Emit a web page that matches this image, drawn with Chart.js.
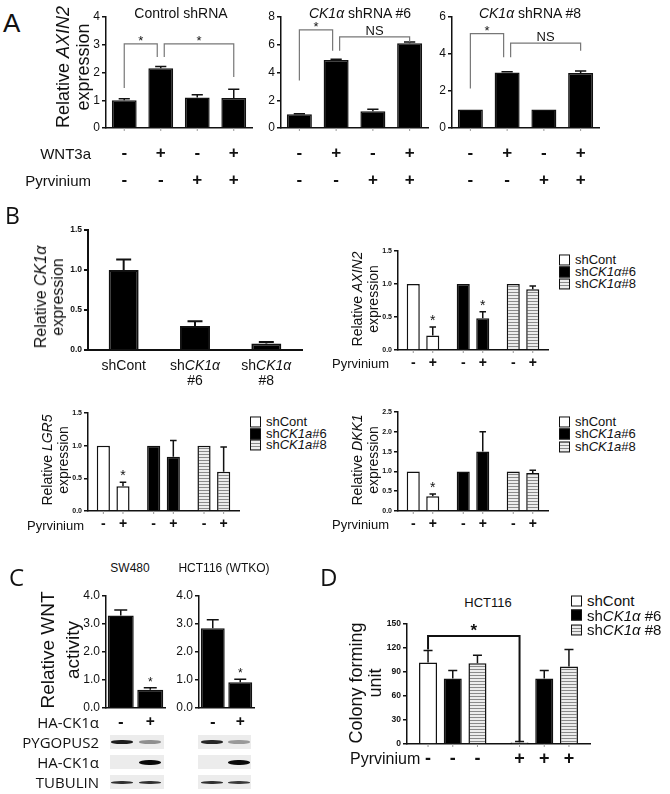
<!DOCTYPE html>
<html>
<head>
<meta charset="utf-8">
<script src="https://cdn.jsdelivr.net/npm/chart.js@4.4.1/dist/chart.umd.min.js"></script>
<style>
  body { margin: 0; background: #fff; }
  #fig { position: relative; width: 670px; height: 794px; overflow: hidden; font-family: "Liberation Sans", Arial, sans-serif; color: #111; }
  #fig canvas { position: absolute; }
  .t { position: absolute; white-space: nowrap; line-height: 1; }
  .yt { position: absolute; white-space: nowrap; text-align: center; transform: translate(-50%, -50%) rotate(-90deg); }
  .box { display: inline-block; box-sizing: border-box; border: 1.5px solid #111; vertical-align: middle; margin-right: 5px; position: relative; top: -1px; }
  .cal { font-family: "Open Sans", sans-serif; }
  .strip { position: absolute; background: #ececec; }
  .band { position: absolute; border-radius: 45%; filter: blur(0.7px); }
</style>
</head>
<body>
<div id="fig"></div>
<script>
// ---- A: relative AXIN2 expression (WNT3a / Pyrvinium) ----
const wnt3a = ['-', '+', '-', '+'];
const pyrvA = ['-', '-', '+', '+'];
const ticksCtrl = ['0', '1', '2', '3', '4'];
const ticksSh6 = ['0', '2', '4', '6', '8'];
const ticksSh8 = ['0', '2', '4', '6'];
const ctrlMean = [1.0, 2.15, 1.1, 1.08];
const ctrlErr = [0.05, 0.07, 0.1, 0.32];
const sh6Mean = [1.0, 4.9, 1.2, 6.1];
const sh6Err = [0.02, 0.05, 0.15, 0.1];
const sh8Mean = [1.0, 3.0, 1.0, 2.97];
const sh8Err = [0, 0.04, 0, 0.11];
// brackets: bar refs [dataset, index], top + leg ends in axis units
const ctrlSig = [{ from: [0, 0], to: [0, 1], top: 3.03, lo: [1.44, 2.56], side: [0, -1], text: '*' },
                 { from: [0, 1], to: [0, 3], top: 3.03, lo: [2.56, 1.84], side: [1, 0], text: '*' }];
const sh6Sig = [{ from: [0, 0], to: [0, 1], top: 7.07, lo: [3.43, 5.57], side: [0, -1], text: '*' },
                { from: [0, 1], to: [0, 3], top: 6.57, lo: [5.57, 6.16], side: [1, 0], text: 'NS' }];
const sh8Sig = [{ from: [0, 0], to: [0, 1], top: 5.1, lo: [2.14, 3.82], side: [0, -1], text: '*' },
                { from: [0, 1], to: [0, 3], top: 4.59, lo: [3.82, 4.18], side: [1, 0], text: 'NS' }];

// ---- B ----
const ck1aCats = ['shCont', 'sh<i>CK1α</i>', 'sh<i>CK1α</i>'];
const ck1aSub = ['', '#6', '#8'];
const ticksCk1a = ['0.0', '0.5', '1.0', '1.5'];
const ck1aMean = [1.0, 0.3, 0.08];
const ck1aErr = [0.13, 0.06, 0.02];

const shGroups = ['shCont', 'shCK1a#6', 'shCK1a#8'];
const pyrvB = ['-', '+', '-', '+', '-', '+'];
const ticks15 = ['0.0', '0.5', '1.0', '1.5'];
const ticks25 = ['0.0', '0.5', '1.0', '1.5', '2.0', '2.5'];
const axinNo = [1, 1, 1];
const axinPyr = [0.22, 0.48, 0.92];
const axinPyrErr = [0.13, 0.1, 0.05];
const axinStar = [true, true, false];
const lgr5No = [1, 1, 1];
const lgr5Pyr = [0.38, 0.83, 0.6];
const lgr5PyrErr = [0.06, 0.25, 0.38];
const lgr5Star = [true, false, false];
const dkk1No = [1, 1, 1];
const dkk1Pyr = [0.37, 1.5, 0.96];
const dkk1PyrErr = [0.06, 0.5, 0.07];
const dkk1Star = [true, false, false];
const legB2 = ['shCont', 'sh<i>CK1α</i>#6', 'sh<i>CK1α</i>#8'];
const legB34 = ['shCont', 'sh<i>CK1a</i>#6', 'sh<i>CK1a</i>#8'];

// ---- C ----
const haCk1a = ['-', '+'];
const ticksC = ['0.0', '1.0', '2.0', '3.0', '4.0'];
const sw480Mean = [3.3, 0.65];
const sw480Err = [0.2, 0.07];
const hctMean = [2.85, 0.92];
const hctErr = [0.3, 0.11];
const cStar = [false, true];
const blotLabels = ['PYGOPUS2', 'HA-CK1α', 'TUBULIN'];
const blotSW480 = [[0.9, 0.3], [0, 1], [0.8, 0.8]];
const blotHCT = [[0.85, 0.25], [0, 1], [0.8, 0.75]];

// ---- D ----
const pyrvGroups = ['-', '+'];
const pyrvD = ['-', '-', '-', '+', '+', '+'];
const ticksD = ['0', '30', '60', '90', '120', '150'];
const cfuCont = [102, 2];
const cfuContErr = [15, 1];
const cfuSh6 = [82, 82];
const cfuSh6Err = [10, 10];
const cfuSh8 = [101, 97];
const cfuSh8Err = [10, 21];
const cfuSig = [{ from: [0, 0], to: [0, 1], top: 135, lo: [118, 3], text: '*' }];
const legD = ['shCont', 'sh<i>CK1α</i> #6', 'sh<i>CK1α</i> #8'];

const fig = document.getElementById('fig');
const SANS = '"Liberation Sans", Arial, sans-serif';
const INK = '#111';

const stripe = (() => {
  const c = document.createElement('canvas');
  c.width = 4; c.height = 3;
  const g = c.getContext('2d');
  g.fillStyle = '#ececec'; g.fillRect(0, 0, 4, 3);
  g.fillStyle = '#8a8a8a'; g.fillRect(0, 0, 4, 1);
  return g.createPattern(c, 'repeat');
})();
const FILLS = ['#fff', '#000', stripe];
const CSSFILLS = ['#fff', '#000', 'repeating-linear-gradient(#8a8a8a 0 1px, #ececec 1px 3px)'];

function richText(ctx, str, x, y, font) {
  const parts = str.split(/(<i>.*?<\/i>)/).filter(s => s).map(s =>
    s.startsWith('<i>') ? { t: s.slice(3, -4), f: 'italic ' + font } : { t: s, f: font });
  let w = 0;
  parts.forEach(p => { ctx.font = p.f; p.w = ctx.measureText(p.t).width; w += p.w; });
  let cx = x - w / 2;
  ctx.textAlign = 'left';
  parts.forEach(p => { ctx.font = p.f; ctx.fillText(p.t, cx, y); cx += p.w; });
}

// error bars, stars, brackets and the -/+ rows under the bars
const marks = {
  id: 'marks',
  afterDraw(chart, args, o) {
    const ctx = chart.ctx, ys = chart.scales.y, base = ys.getPixelForValue(0);
    const bars = [];
    chart.data.datasets.forEach((ds, d) =>
      chart.getDatasetMeta(d).data.forEach((el, i) => bars.push({ el, ds, i })));
    bars.sort((a, b) => a.el.x - b.el.x);
    ctx.save();
    ctx.fillStyle = INK;
    ctx.strokeStyle = INK;
    bars.forEach(b => {
      const v = b.ds.data[b.i], e = b.ds.errors ? b.ds.errors[b.i] : 0;
      const top = ys.getPixelForValue(v + e);
      ctx.lineWidth = o.lw;
      if (e) {
        const half = b.el.width * o.cap / 2;
        ctx.beginPath();
        ctx.moveTo(b.el.x, b.el.y); ctx.lineTo(b.el.x, top);
        ctx.moveTo(b.el.x - half, top); ctx.lineTo(b.el.x + half, top);
        ctx.stroke();
      }
      if (b.ds.stars && b.ds.stars[b.i]) {
        ctx.font = o.starFont; ctx.textAlign = 'center'; ctx.textBaseline = 'alphabetic';
        ctx.fillText('*', b.el.x, top - o.starGap);
      }
      if (o.xTick) {
        ctx.strokeStyle = '#999'; ctx.lineWidth = 1;
        ctx.beginPath(); ctx.moveTo(b.el.x, base); ctx.lineTo(b.el.x, base + o.xTick); ctx.stroke();
        ctx.strokeStyle = INK;
      }
    });
    (o.brackets || []).forEach(br => {
      const e1 = chart.getDatasetMeta(br.from[0]).data[br.from[1]];
      const e2 = chart.getDatasetMeta(br.to[0]).data[br.to[1]];
      const side = br.side || [0, 0];
      const x1 = e1.x + side[0] * o.shareGap, x2 = e2.x + side[1] * o.shareGap;
      const yt = ys.getPixelForValue(br.top);
      ctx.strokeStyle = o.bracketColor; ctx.lineWidth = o.bracketWidth;
      ctx.beginPath();
      ctx.moveTo(x1, ys.getPixelForValue(br.lo[0]));
      ctx.lineTo(x1, yt); ctx.lineTo(x2, yt);
      ctx.lineTo(x2, ys.getPixelForValue(br.lo[1]));
      ctx.stroke();
      ctx.font = br.text === '*' ? o.bracketStar : o.bracketFont;
      ctx.textAlign = 'center'; ctx.textBaseline = 'alphabetic';
      ctx.fillText(br.text, (x1 + x2) / 2, yt - (br.text === '*' ? o.starLift : o.textLift));
    });
    ctx.textBaseline = 'middle';
    (o.rows || []).forEach(r => {
      bars.forEach((b, k) => { if (r.labels[k]) richText(ctx, r.labels[k], b.el.x, base + r.dy, r.font); });
    });
    ctx.restore();
  }
};

function barChart(o) {
  const cv = document.createElement('canvas');
  const yW = o.yW, padT = o.padT || 10, padB = o.padB, padR = o.padR || 6;
  cv.width = o.ar - o.ax + yW + padR;
  cv.height = o.yb - o.yt + padT + padB;
  cv.style.left = (o.ax - yW) + 'px';
  cv.style.top = (o.yt - padT) + 'px';
  fig.appendChild(cv);
  const ticks = o.ticks;
  return new Chart(cv, {
    type: 'bar',
    data: { labels: o.labels, datasets: o.datasets },
    options: {
      responsive: false, animation: false, devicePixelRatio: 1,
      layout: { padding: { top: padT, right: padR, left: 0, bottom: 0 } },
      plugins: { legend: { display: false }, tooltip: { enabled: false }, marks: o.marks },
      datasets: { bar: { categoryPercentage: o.cat, barPercentage: o.bar, borderColor: INK, borderWidth: o.lw, borderSkipped: 'bottom' } },
      scales: {
        x: {
          afterFit: s => { s.height = padB; },
          ticks: { display: false }, grid: { display: false },
          border: { color: INK, width: o.lw }
        },
        y: {
          min: +ticks[0], max: +ticks[ticks.length - 1],
          afterFit: s => { s.width = yW; },
          afterBuildTicks: s => { s.ticks = ticks.map(t => ({ value: +t })); },
          ticks: { callback: (v, i) => ticks[i], font: o.tickFont, color: INK, padding: 2, autoSkip: false },
          grid: { drawOnChartArea: false, tickLength: 4, color: INK, lineWidth: o.lw },
          border: { color: INK, width: o.lw }
        }
      }
    },
    plugins: [marks]
  });
}

function txt(html, x, y, css, anchor) {
  const d = document.createElement('div');
  d.className = 't';
  d.innerHTML = html;
  d.style.cssText += css;
  d.style.left = x + 'px';
  d.style.top = y + 'px';
  d.style.transform = anchor === 'c' ? 'translate(-50%,-50%)' : anchor === 'r' ? 'translate(-100%,-50%)' : 'translate(0,-50%)';
  fig.appendChild(d);
  return d;
}
function ytitle(html, x, y, size, lh, extra) {
  const d = document.createElement('div');
  d.className = 'yt';
  d.innerHTML = html;
  d.style.left = x + 'px';
  d.style.top = y + 'px';
  d.style.fontSize = size + 'px';
  d.style.lineHeight = lh + 'px';
  if (extra) d.style.cssText += extra;
  fig.appendChild(d);
}
function legend(labels, x, y0, dy, size, box) {
  labels.forEach((lab, k) => {
    txt(`<span class="box" style="width:${box}px;height:${box}px;background:${CSSFILLS[k]}"></span>${lab}`,
      x, y0 + k * dy, `font-size:${size}px;`);
  });
}

// ---------- Panel A ----------
const starA = { lw: 1.5, cap: 0.45, shareGap: 3.5, bracketColor: '#777', bracketWidth: 1.2,
  bracketStar: `13px ${SANS}`, bracketFont: `13px ${SANS}`, starLift: -1, textLift: 2,
  starFont: `13px ${SANS}`, starGap: 3, xTick: 3 };
const aCommon = { yt: 17, yb: 128, yW: 24, padB: 72, cat: 1, bar: 0.68, lw: 1.5, tickFont: { family: SANS, size: 12 } };
const rowsA = [{ labels: wnt3a, dy: 25, font: `bold 17px ${SANS}` }, { labels: pyrvA, dy: 52, font: `bold 17px ${SANS}` }];
barChart({ ...aCommon, ax: 106, ar: 252, ticks: ticksCtrl, labels: wnt3a,
  datasets: [{ data: ctrlMean, errors: ctrlErr, backgroundColor: '#000' }],
  marks: { ...starA, brackets: ctrlSig, rows: rowsA } });
barChart({ ...aCommon, ax: 281, ar: 428, ticks: ticksSh6, labels: wnt3a,
  datasets: [{ data: sh6Mean, errors: sh6Err, backgroundColor: '#000' }],
  marks: { ...starA, brackets: sh6Sig, rows: rowsA } });
barChart({ ...aCommon, ax: 452, ar: 599, ticks: ticksSh8, labels: wnt3a,
  datasets: [{ data: sh8Mean, errors: sh8Err, backgroundColor: '#000' }],
  marks: { ...starA, brackets: sh8Sig, rows: rowsA } });

txt('A', 3, 23, 'font-size:26px;');
txt('Control shRNA', 181, 13, 'font-size:14px;', 'c');
txt('<i>CK1α</i> shRNA #6', 360, 13, 'font-size:14px;', 'c');
txt('<i>CK1α</i> shRNA #8', 530, 13, 'font-size:14px;', 'c');
txt('WNT3a', 91, 153, 'font-size:15px;', 'r');
txt('Pyrvinium', 91, 180, 'font-size:15px;', 'r');
ytitle('Relative <i>AXIN2</i><br>expression', 73, 67, 18, 20);

// ---------- Panel B ----------
barChart({ ax: 88, ar: 302, yt: 230, yb: 350, yW: 28, padB: 42, cat: 1, bar: 0.42, lw: 2,
  ticks: ticksCk1a, labels: ck1aSub, tickFont: { family: SANS, size: 8.5, weight: 'bold' },
  datasets: [{ data: ck1aMean, errors: ck1aErr, backgroundColor: '#000' }],
  marks: { lw: 2, cap: 0.5, xTick: 0,
    rows: [{ labels: ck1aCats, dy: 16, font: `14px ${SANS}` }, { labels: ck1aSub, dy: 31, font: `14px ${SANS}` }] } });
txt('B', 5, 215, 'font-size:23px;', '').classList.add('cal');
ytitle('Relative <i>CK1α</i><br>expression', 49, 297, 16, 17);

const bMarks = { lw: 1.5, cap: 0.5, starFont: `14px ${SANS}`, starGap: 2, xTick: 3 };
const bTick = { family: SANS, size: 7, weight: 'bold' };
const rowB = [{ labels: pyrvB, dy: 13, font: `bold 14px ${SANS}` }];
function groupSets(no, pyr, pyrErr, stars) {
  return [{ data: no, backgroundColor: FILLS },
          { data: pyr, errors: pyrErr, stars: stars, backgroundColor: FILLS }];
}
barChart({ ax: 398, ar: 548, yt: 251, yb: 350, yW: 22, padB: 24, cat: 0.78, bar: 0.67, lw: 1.5,
  ticks: ticks15, labels: shGroups, tickFont: bTick,
  datasets: groupSets(axinNo, axinPyr, axinPyrErr, axinStar), marks: { ...bMarks, rows: rowB } });
barChart({ ax: 88, ar: 239, yt: 413, yb: 511, yW: 22, padB: 24, cat: 0.78, bar: 0.67, lw: 1.5,
  ticks: ticks15, labels: shGroups, tickFont: bTick,
  datasets: groupSets(lgr5No, lgr5Pyr, lgr5PyrErr, lgr5Star), marks: { ...bMarks, rows: rowB } });
barChart({ ax: 398, ar: 548, yt: 412, yb: 511, yW: 22, padB: 24, cat: 0.78, bar: 0.67, lw: 1.5,
  ticks: ticks25, labels: shGroups, tickFont: bTick,
  datasets: groupSets(dkk1No, dkk1Pyr, dkk1PyrErr, dkk1Star), marks: { ...bMarks, rows: rowB } });

ytitle('Relative <i>AXIN2</i><br>expression', 365, 299, 14, 16);
ytitle('Relative <i>LGR5</i><br>expression', 55, 460, 14, 16);
ytitle('Relative <i>DKK1</i><br>expression', 365, 460, 14, 16);
txt('Pyrvinium', 332, 363, 'font-size:13px;');
txt('Pyrvinium', 27, 525, 'font-size:13px;');
txt('Pyrvinium', 332, 524, 'font-size:13px;');
legend(legB2, 559, 260, 12, 13, 11);
legend(legB34, 250, 422, 11.7, 13, 11);
legend(legB34, 559, 422, 12.3, 13, 11);

// ---------- Panel C ----------
const cMarks = { lw: 1.5, cap: 0.5, starFont: `12px ${SANS}`, starGap: 2, xTick: 0,
  rows: [{ labels: haCk1a, dy: 14, font: `bold 16px "Open Sans", sans-serif` }] };
barChart({ ax: 106, ar: 165, yt: 596, yb: 708, yW: 30, padB: 24, cat: 1, bar: 0.88, lw: 1.5,
  ticks: ticksC, labels: haCk1a, tickFont: { family: SANS, size: 12 },
  datasets: [{ data: sw480Mean, errors: sw480Err, stars: cStar, backgroundColor: '#000' }], marks: cMarks });
barChart({ ax: 199, ar: 254, yt: 596, yb: 708, yW: 30, padB: 24, cat: 1, bar: 0.87, lw: 1.5,
  ticks: ticksC, labels: haCk1a, tickFont: { family: SANS, size: 12 },
  datasets: [{ data: hctMean, errors: hctErr, stars: cStar, backgroundColor: '#000' }], marks: cMarks });
txt('C', 9, 577, 'font-size:24px;').classList.add('cal');
txt('SW480', 130, 568, 'font-size:12px;', 'c');
txt('HCT116 (WTKO)', 224, 568, 'font-size:12px;', 'c');
ytitle('Relative WNT<br>activity', 60, 650, 19, 25);
txt('HA-CK1α', 99, 722, 'font-size:15px;', 'r').classList.add('cal');

const blotY = [742, 762, 782];
const bandH = [4, 5, 3];
function blot(lanes, x0, x1, xs) {
  blotY.forEach((y, r) => {
    const s = document.createElement('div');
    s.className = 'strip';
    s.style.cssText += `left:${x0}px;top:${y - 7}px;width:${x1 - x0}px;height:14px;`;
    fig.appendChild(s);
    lanes[r].forEach((v, k) => {
      if (!v) return;
      const b = document.createElement('div');
      b.className = 'band';
      const g = Math.round(200 - 190 * v);
      b.style.cssText += `left:${xs[k] - 11}px;top:${y - bandH[r] / 2}px;width:22px;height:${bandH[r]}px;background:rgb(${g},${g},${g});`;
      fig.appendChild(b);
    });
  });
}
blot(blotSW480, 110, 164, [122, 150]);
blot(blotHCT, 198, 251, [212, 239]);
blotLabels.forEach((lab, r) => txt(lab, 99, blotY[r], 'font-size:15px;', 'r').classList.add('cal'));

// ---------- Panel D ----------
barChart({ ax: 407, ar: 590, yt: 624, yb: 744, yW: 24, padT: 12, padB: 26, cat: 0.81, bar: 0.73, lw: 1.5,
  ticks: ticksD, labels: pyrvGroups, tickFont: { family: SANS, size: 8.5, weight: 'bold' },
  datasets: [
    { data: cfuCont, errors: cfuContErr, backgroundColor: FILLS[0] },
    { data: cfuSh6, errors: cfuSh6Err, backgroundColor: FILLS[1] },
    { data: cfuSh8, errors: cfuSh8Err, backgroundColor: FILLS[2] }
  ],
  marks: { lw: 1.5, cap: 0.5, xTick: 3, shareGap: 0, bracketColor: INK, bracketWidth: 2,
    bracketStar: `bold 17px ${SANS}`, bracketFont: `15px ${SANS}`, starLift: 0, textLift: 2,
    brackets: cfuSig, rows: [{ labels: pyrvD, dy: 15, font: `bold 18px ${SANS}` }] } });
txt('D', 320, 577, 'font-size:24px;').classList.add('cal');
txt('HCT116', 488, 602, 'font-size:13px;', 'c');
ytitle('Colony forming<br>unit', 366, 683, 18, 19);
txt('Pyrvinium', 350, 759, 'font-size:16px;');
legend(legD, 571, 600, 14.5, 15, 11);
</script>
</body>
</html>
